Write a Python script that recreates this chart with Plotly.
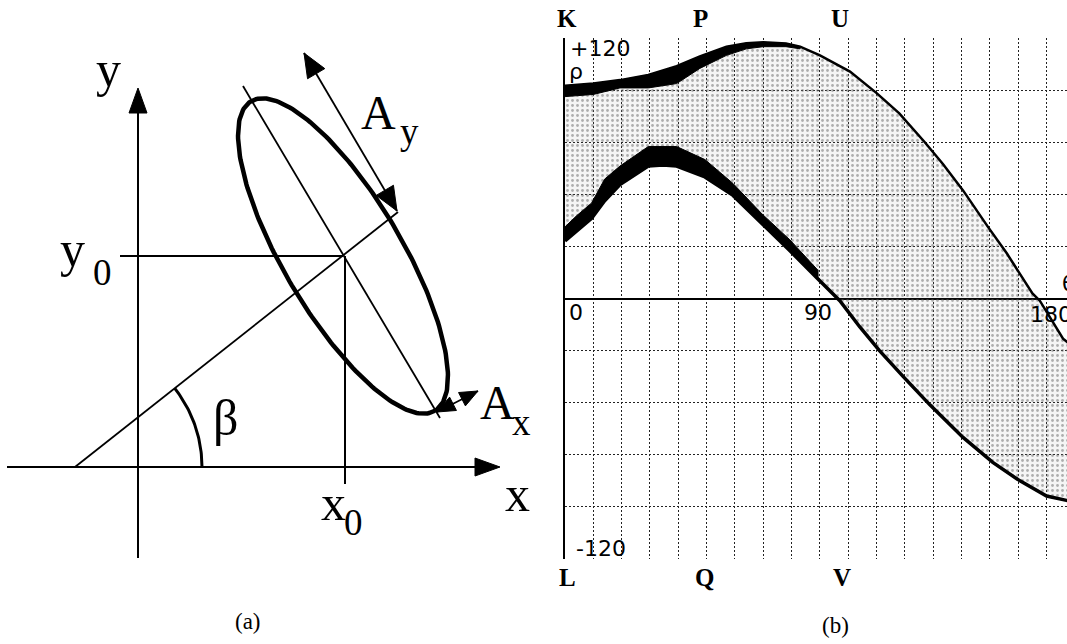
import numpy as np
import plotly.graph_objects as go

W, H = 1067, 644

# ---- panel (b): rho(theta) accumulator ----
theta_up = [0, 10, 19.4, 29.4, 39.4, 47.6, 57, 64, 70, 78, 83, 90, 100.6, 110, 118, 127,
            133.4, 140.5, 149.3, 156, 165, 167.6, 175.8, 180]
rho_up = [98, 99, 100.6, 103, 107, 111.5, 116, 117.6, 118, 117.5, 116, 112, 104.5, 94.6,
          85.3, 72, 62, 49.8, 33, 20.7, 2.3, -1, -18.5, -23]

theta_lo = [0, 4, 9.4, 14, 19.4, 29.4, 34.6, 39.4, 49.4, 59.3, 69.5, 79.4, 89.3, 97, 104,
            111, 119.4, 128.8, 140.5, 151, 160.6, 170, 177, 180]
rho_lo = [26.5, 31, 37, 45, 52.5, 61, 61.5, 61, 56, 47.5, 34.6, 22, 9, -1, -13, -24, -36,
          -49, -64, -75.5, -84, -91, -93, -93.5]

# dark (saturated) parts of the two envelopes
theta_up_dark = [0, 10, 19.4, 29.4, 39.4, 47.6, 57, 64, 70, 78, 83]
rho_up_dark_top = [98, 99, 100.6, 103, 107, 111.5, 116, 117.6, 118, 117.5, 116]
rho_up_dark_bot = [93, 94, 97, 97, 99, 106, 112, 115, 116, 116, 115]

theta_lo_dark = [0, 4, 9.4, 14, 19.4, 29.4, 34.6, 39.4, 49.4, 59.3, 69.5, 79.4, 89.3]
rho_lo_dark_bot = [26.5, 31, 37, 45, 52.5, 61, 61.5, 61, 56, 47.5, 34.6, 22, 9]
rho_lo_dark_top = [33, 38, 44, 55, 61, 70, 70, 70, 64, 53, 39, 27, 13]

theta_grid = list(range(0, 181, 10))
rho_grid = [-120, -96, -72, -48, -24, 0, 24, 48, 72, 96, 120]

# ---- panel (a): diagram geometry in page pixels ----
y_axis = [(138, 558), (138, 100)]
y_axis_tip = (138, 88)
x_axis = [(7, 467), (488, 467)]
x_axis_tip = (500, 467)
y0_line = [(120, 256), (343, 256)]
x0_line = [(345, 256), (345, 484)]
minor_line = [(75, 467), (398, 212)]
major_line = [(243, 86), (440, 418)]
ellipse_centre = (343, 256)
ellipse_axes = (180, 59)
ellipse_tilt = 59.3
beta_radius = 127
beta_angle = 38.2
ay_tips = [(304, 53), (397, 211)]
ax_tips = [(437, 412), (478, 391)]

fig = go.Figure()


def seg(pts, width):
    xs, ys = zip(*pts)
    fig.add_trace(go.Scatter(x=xs, y=ys, mode='lines', line=dict(color='black', width=width),
                             hoverinfo='skip', xaxis='x', yaxis='y'))


def head(tip, tail, length, width):
    tip = np.array(tip, float)
    tail = np.array(tail, float)
    d = (tip - tail) / np.linalg.norm(tip - tail)
    n = np.array([-d[1], d[0]])
    base = tip - d * length
    p = [tip, base + n * width / 2, base - n * width / 2, tip]
    fig.add_trace(go.Scatter(x=[q[0] for q in p], y=[q[1] for q in p], mode='lines',
                             fill='toself', fillcolor='black', line=dict(color='black', width=1),
                             hoverinfo='skip', xaxis='x', yaxis='y'))


# axes with arrows
seg(y_axis, 2)
head(y_axis_tip, y_axis[0], 25, 18)
seg(x_axis, 2)
head(x_axis_tip, x_axis[0], 25, 18)
seg(y0_line, 2)
seg(x0_line, 2)
seg(minor_line, 1.8)
seg(major_line, 1.8)

# ellipse
t = np.linspace(0, 2 * np.pi, 240)
phi = np.radians(ellipse_tilt)
u = np.array([np.cos(phi), np.sin(phi)])
v = np.array([-np.sin(phi), np.cos(phi)])
ex = ellipse_centre[0] + ellipse_axes[0] * np.cos(t) * u[0] + ellipse_axes[1] * np.sin(t) * v[0]
ey = ellipse_centre[1] + ellipse_axes[0] * np.cos(t) * u[1] + ellipse_axes[1] * np.sin(t) * v[1]
fig.add_trace(go.Scatter(x=ex, y=ey, mode='lines', line=dict(color='black', width=4.5),
                         hoverinfo='skip', xaxis='x', yaxis='y'))

# beta arc
a = np.radians(np.linspace(0, beta_angle, 40))
seg(list(zip(minor_line[0][0] + beta_radius * np.cos(a), minor_line[0][1] - beta_radius * np.sin(a))), 3)

# A_y and A_x double arrows
seg(ay_tips, 1.8)
head(ay_tips[0], ay_tips[1], 24, 20)
head(ay_tips[1], ay_tips[0], 24, 20)
seg(ax_tips, 1.8)
head(ax_tips[0], ax_tips[1], 18, 15)
head(ax_tips[1], ax_tips[0], 18, 15)

# ---- panel (b) traces ----
fig.add_trace(go.Scatter(x=theta_up + theta_lo[::-1], y=rho_up + rho_lo[::-1], mode='lines',
                         fill='toself', fillcolor='rgba(120,120,120,0.08)',
                         fillpattern=dict(shape='.', fgcolor='#666', size=5, solidity=0.25),
                         line=dict(width=0), hoverinfo='skip', xaxis='x2', yaxis='y2'))
fig.add_trace(go.Scatter(x=theta_up_dark + theta_up_dark[::-1],
                         y=rho_up_dark_top + rho_up_dark_bot[::-1], mode='lines', fill='toself',
                         fillcolor='black', line=dict(color='black', width=1),
                         hoverinfo='skip', xaxis='x2', yaxis='y2'))
fig.add_trace(go.Scatter(x=theta_lo_dark + theta_lo_dark[::-1],
                         y=rho_lo_dark_bot + rho_lo_dark_top[::-1], mode='lines', fill='toself',
                         fillcolor='black', line=dict(color='black', width=1),
                         hoverinfo='skip', xaxis='x2', yaxis='y2'))
fig.add_trace(go.Scatter(x=theta_up, y=rho_up, mode='lines', line=dict(color='black', width=2.5),
                         hoverinfo='skip', xaxis='x2', yaxis='y2'))
fig.add_trace(go.Scatter(x=theta_lo, y=rho_lo, mode='lines', line=dict(color='black', width=3.5),
                         hoverinfo='skip', xaxis='x2', yaxis='y2'))

# ---- text ----
serif = 'Liberation Serif, Times New Roman, serif'
sans = 'DejaVu Sans, sans-serif'


def txt(x, y, s, size, family=serif, anchor='center'):
    fig.add_annotation(x=x, y=y, xref='x', yref='y', text=s, showarrow=False,
                       font=dict(family=family, size=size, color='black'),
                       xanchor=anchor, yanchor='middle')


txt(108, 69, 'y', 50)
txt(517, 494, 'x', 50)
txt(72, 249, 'y', 50)
txt(102, 272, '0', 37)
txt(333, 503, 'x', 50)
txt(353, 522, '0', 37)
txt(225, 418, 'β', 50)
txt(378, 112, 'A', 48)
txt(409, 131, 'y', 37)
txt(497, 402, 'A', 48)
txt(521, 422, 'x', 37)
txt(248, 621, '(a)', 23)
txt(835, 625, '(b)', 23)

for x, y, s in [(567, 18, 'K'), (700, 18, 'P'), (840, 18, 'U'),
                (567, 577, 'L'), (704, 577, 'Q'), (842, 577, 'V')]:
    txt(x, y, '<b>' + s + '</b>', 25)

txt(600, 48, '+120', 22, sans)
txt(576, 71, 'ρ', 22, sans)
txt(576, 312, '0', 22, sans)
txt(818, 312, '90', 22, sans)
txt(1051, 314, '180', 22, sans)
txt(601, 548, '-120', 22, sans)
txt(1060, 283, 'θ', 22, sans, 'left')

grid = dict(showgrid=True, gridcolor='#222', gridwidth=1, griddash='2px,2px',
            tickmode='array', showticklabels=False, ticks='', fixedrange=True)

fig.update_layout(
    width=W, height=H,
    margin=dict(l=0, r=0, t=0, b=0),
    paper_bgcolor='white', plot_bgcolor='white',
    showlegend=False,
    xaxis=dict(domain=[0, 1], range=[0, W], visible=False, fixedrange=True),
    yaxis=dict(domain=[0, 1], range=[H, 0], visible=False, fixedrange=True),
    xaxis2=dict(anchor='y2', domain=[565 / W, 1], range=[0, 177.2], tickvals=theta_grid,
                zeroline=False, **grid),
    yaxis2=dict(anchor='x2', domain=[85 / H, 606 / H], range=[-120, 120], tickvals=rho_grid,
                zeroline=True, zerolinecolor='black', zerolinewidth=2,
                showline=True, linecolor='black', linewidth=2, **grid),
)

# the page body has a default 8px margin; drop it so the figure sits at the window corner
fig.write_html("out.html", config={'displayModeBar': False},
               post_script="document.body.style.margin='0px';")
